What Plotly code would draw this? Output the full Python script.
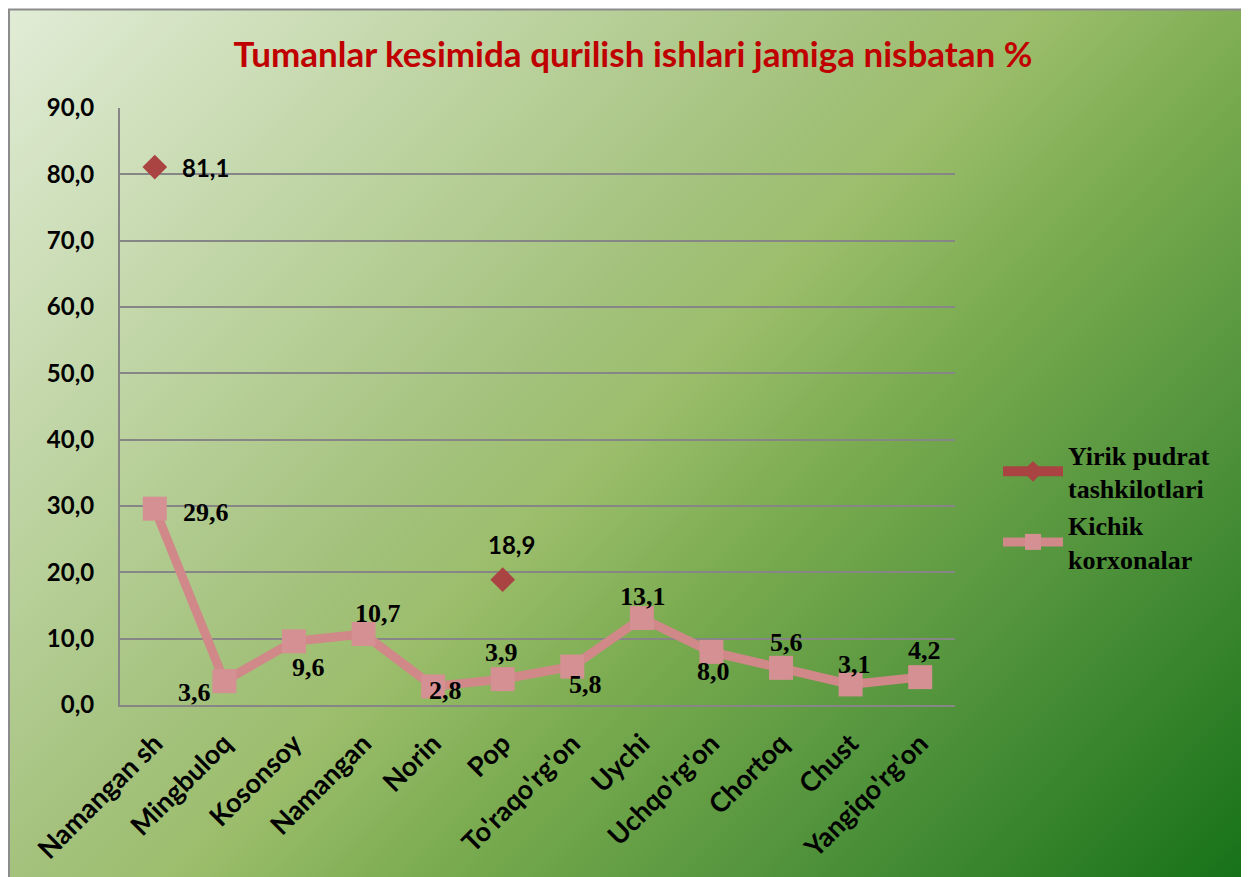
import base64
import plotly.graph_objects as go

categories = ["Namangan sh", "Mingbuloq", "Kosonsoy", "Namangan", "Norin", "Pop",
              "To'raqo'rg'on", "Uychi", "Uchqo'rg'on", "Chortoq", "Chust", "Yangiqo'rg'on"]
yirik = [81.1, None, None, None, None, 18.9, None, None, None, None, None, None]
kichik = [29.6, 3.6, 9.6, 10.7, 2.8, 3.9, 5.8, 13.1, 8.0, 5.6, 3.1, 4.2]
y_ticks = [0, 10, 20, 30, 40, 50, 60, 70, 80, 90]

# label offsets (pixels) for data labels
kichik_off = [(51, -4), (-30, -11), (15, -26), (14, 21), (12, -4), (-1, 27),
              (13, -18), (1, 22), (2, -20), (5, 25), (4, 20), (4, 27)]
yirik_off = {0: (51, 0), 5: (9, 35)}

OFF = 8  # page body margin
W, H = 1249, 877
ML, MT = 120 - OFF, 108 - OFF
PW, PH = 835, 597
MR, MB = W - ML - PW, H - MT - PH

def px_to_paper_x(px):
    return (px - OFF - ML) / PW

def px_to_paper_y(py):
    return (MT + PH - (py - OFF)) / PH

# gradient background as svg
gw, gh = 1260, 890
svg = f'''<svg xmlns="http://www.w3.org/2000/svg" width="{gw}" height="{gh}" viewBox="0 0 {gw} {gh}" preserveAspectRatio="none">
<defs><linearGradient id="g" gradientUnits="userSpaceOnUse" x1="0" y1="0" x2="1054" y2="1054">
<stop offset="0" stop-color="#e1ecd6"/>
<stop offset="0.42" stop-color="#a3c17b"/>
<stop offset="0.49" stop-color="#9cbe6c"/>
<stop offset="0.61" stop-color="#7aab50"/>
<stop offset="0.8" stop-color="#4a8f38"/>
<stop offset="1" stop-color="#167118"/>
</linearGradient></defs>
<rect x="0" y="0" width="{gw}" height="{gh}" fill="url(#g)"/>
</svg>'''
src = "data:image/svg+xml;base64," + base64.b64encode(svg.encode()).decode()

fig = go.Figure()
fig.add_trace(go.Scatter(
    x=categories, y=yirik, name="Yirik pudrat<br>tashkilotlari", mode="lines+markers",
    line=dict(color="#a94442", width=10), connectgaps=False,
    marker=dict(symbol="diamond", size=19, color="#a94442")))
fig.add_trace(go.Scatter(
    x=categories, y=kichik, name="Kichik<br>korxonalar", mode="lines+markers",
    line=dict(color="#d08888", width=9),
    marker=dict(symbol="square", size=24, color="#d49092")))

annotations = []
for i, v in enumerate(kichik):
    dx, dy = kichik_off[i]
    annotations.append(dict(x=categories[i], y=v, xref="x", yref="y",
                            text=f"{v:.1f}".replace(".", ","), showarrow=False,
                            xshift=dx, yshift=dy,
                            font=dict(family="Liberation Serif", size=26, color="black", weight="bold")))
for i, (dx, dy) in yirik_off.items():
    v = yirik[i]
    annotations.append(dict(x=categories[i], y=v, xref="x", yref="y",
                            text=f"{v:.1f}".replace(".", ","), showarrow=False,
                            xshift=dx, yshift=dy,
                            font=dict(family="Lato", size=24, color="black", weight="bold")))

fig.update_layout(
    width=W, height=H,
    margin=dict(l=ML, r=MR, t=MT, b=MB),
    paper_bgcolor="white", plot_bgcolor="rgba(0,0,0,0)",
    separators=",.",
    title=dict(text="Tumanlar kesimida qurilish ishlari jamiga nisbatan %",
               x=px_to_paper_x(633), xref="paper", xanchor="center",
               y=1 - (55 - OFF) / H, yanchor="middle",
               font=dict(family="Lato", size=35, color="#c00000", weight="bold")),
    showlegend=True,
    legend=dict(x=px_to_paper_x(998), y=px_to_paper_y(431), xref="paper", yref="paper",
                xanchor="left", yanchor="top", bgcolor="rgba(0,0,0,0)",
                font=dict(family="Liberation Serif", size=26, color="black", weight="bold"),
                itemwidth=60, tracegroupgap=4),
    annotations=annotations,
    images=[dict(source=src, xref="paper", yref="paper",
                 x=px_to_paper_x(9), y=px_to_paper_y(10),
                 sizex=gw / PW, sizey=gh / PH, sizing="stretch",
                 xanchor="left", yanchor="top", layer="below")],
    shapes=[dict(type="rect", xref="paper", yref="paper",
                 x0=px_to_paper_x(9), x1=px_to_paper_x(1280),
                 y0=px_to_paper_y(900), y1=px_to_paper_y(9.5),
                 line=dict(color="#8c8c8c", width=2), fillcolor="rgba(0,0,0,0)", layer="below")],
)
fig.update_xaxes(type="category", range=[-0.5, 11.5], showgrid=False,
                 showline=True, linecolor="#868686", linewidth=2,
                 tickangle=-45, ticks="", ticklabelstandoff=10,
                 tickfont=dict(family="Lato", size=27, color="black", weight="bold"))
fig.update_yaxes(range=[0, 90], tickvals=y_ticks, tickformat=".1f",
                 showgrid=True, gridcolor="#868686", gridwidth=2,
                 showline=True, linecolor="#868686", linewidth=2,
                 ticks="", ticklabelstandoff=19, zeroline=False,
                 tickfont=dict(family="Lato", size=24, color="black", weight="bold"))

fig.write_html("out.html")
